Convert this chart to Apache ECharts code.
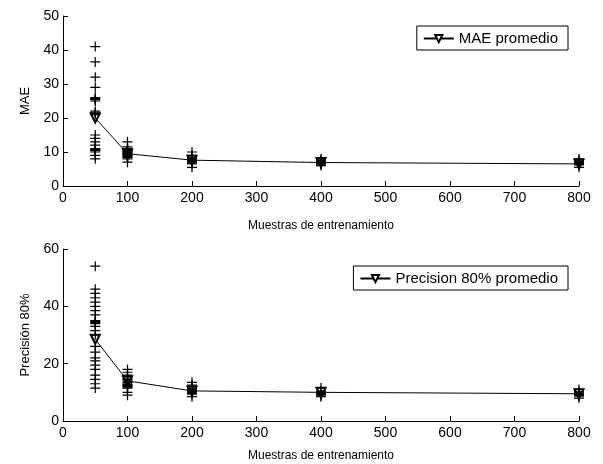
<!DOCTYPE html>
<html>
<head>
<meta charset="utf-8">
<script src="https://cdn.jsdelivr.net/npm/echarts@6/dist/echarts.min.js"></script>
<style>
html,body{margin:0;padding:0;background:#fff;}
#c{width:603px;height:464px;}
</style>
</head>
<body>
<div id="c"></div>
<script>
// X positions (training samples)
const samples = [50, 100, 200, 400, 800];

// Individual MAE results per sample size
const maeRuns50 = [41, 36.5, 32, 29, 26, 25.7, 25.4, 25, 22, 21.5, 21, 15, 14, 13, 12, 11, 10.8, 10.6, 10.4, 10, 9, 8];
const maeRuns100 = [13, 11.5, 11, 10.8, 10.6, 10.4, 10.2, 10, 9.8, 9.6, 9.4, 9.2, 9, 8.8, 8.6, 8.4, 8, 7];
const maeRuns200 = [10, 9, 8.3, 8.1, 7.9, 7.7, 7.5, 7.3, 7.1, 6.9, 6.5, 5.5];
const maeRuns400 = [8, 7.6, 7.4, 7.2, 7, 6.8, 6.6, 6.4, 6];
const maeRuns800 = [8, 7.4, 7.2, 7, 6.8, 6.6, 6.4, 6.2, 5.5];
const maeMean = [20, 9.5, 7.6, 6.9, 6.5];

// Individual precision-80% results per sample size
const precRuns50 = [54, 46, 44.5, 43, 41.5, 40, 38.5, 37, 35, 34.7, 34.4, 34, 33, 31.5, 30, 26, 24, 22, 21, 19.5, 18, 16, 14.5, 13, 11.5];
const precRuns100 = [18, 17, 16, 15, 14.5, 14, 13.5, 13, 12.7, 12.4, 12.1, 11.8, 11.5, 10, 9];
const precRuns200 = [13.5, 12.5, 11.5, 11.2, 10.9, 10.6, 10.3, 10, 9.7, 9.4, 8.5];
const precRuns400 = [11.5, 10.5, 10.2, 9.9, 9.6, 9.3, 9, 8.5];
const precRuns800 = [11, 10.2, 9.8, 9.5, 9.2, 9, 8.7, 8];
const precMean = [28.5, 14, 10.5, 10, 9.5];

const xTicks = [0, 100, 200, 300, 400, 500, 600, 700, 800];

function pts(x, arr){ return arr.map(v => [x, v]); }
const maeRuns = [].concat(pts(samples[0], maeRuns50), pts(samples[1], maeRuns100), pts(samples[2], maeRuns200), pts(samples[3], maeRuns400), pts(samples[4], maeRuns800));
const precRuns = [].concat(pts(samples[0], precRuns50), pts(samples[1], precRuns100), pts(samples[2], precRuns200), pts(samples[3], precRuns400), pts(samples[4], precRuns800));

const font = 'Liberation Sans, Arial, sans-serif';
const plus = 'path://M4.4,0H5.6V4.4H10V5.6H5.6V10H4.4V5.6H0V4.4H4.4Z';

function xAxis(gi){
  return {
    type:'value', gridIndex:gi, min:0, max:800, interval:100,
    name:'Muestras de entrenamiento', nameLocation:'middle', nameGap: gi===0 ? 34 : 29,
    nameTextStyle:{color:'#000', fontFamily:font, fontSize:12},
    axisLine:{lineStyle:{color:'#000', width:1}},
    axisTick:{inside:true, length:5, lineStyle:{color:'#000'}},
    axisLabel:{color:'#000', fontFamily:font, fontSize:14, margin:5},
    splitLine:{show:false}
  };
}
function yAxis(gi, max, interval, name){
  return {
    type:'value', gridIndex:gi, min:0, max:max, interval:interval,
    name:name, nameLocation:'middle', nameGap:31,
    nameTextStyle:{color:'#000', fontFamily:font, fontSize:13},
    axisLine:{show:true, lineStyle:{color:'#000', width:1}},
    axisTick:{show:true, inside:true, length:5, lineStyle:{color:'#000'}},
    axisLabel:{color:'#000', fontFamily:font, fontSize:14, margin:4},
    splitLine:{show:false}
  };
}
function legend(name, top){
  return {data:[name], right:35, top:top, orient:'vertical',
    backgroundColor:'#fff', borderColor:'#000', borderWidth:1, borderRadius:0,
    padding:[5,10,4,6], itemWidth:30, itemHeight:9, itemGap:4,
    textStyle:{color:'#000', fontFamily:font, fontSize:15}};
}

const chart = echarts.init(document.getElementById('c'), null, {renderer:'canvas'});
chart.setOption({
  backgroundColor:'#fff',
  animation:false,
  grid:[
    {left:63, right:24, top:16, height:170},
    {left:63, right:24, top:249, height:172}
  ],
  xAxis:[xAxis(0), xAxis(1)],
  yAxis:[yAxis(0, 50, 10, 'MAE'), yAxis(1, 60, 20, 'Precisión 80%')],
  legend:[legend('MAE promedio', 26), legend('Precision 80% promedio', 266)],
  series:[
    {type:'line', name:'MAE promedio', xAxisIndex:0, yAxisIndex:0,
     data:samples.map((x,i)=>[x, maeMean[i]]),
     symbol:'emptyTriangle', symbolRotate:180, symbolSize:9,
     lineStyle:{color:'#000', width:1}, itemStyle:{color:'#000', borderColor:'#000', borderWidth:1}, z:2},
    {type:'scatter', name:'MAE runs', xAxisIndex:0, yAxisIndex:0, data:maeRuns,
     symbol:plus, symbolSize:10, itemStyle:{color:'#000', opacity:1}, z:3},
    {type:'line', name:'Precision 80% promedio', xAxisIndex:1, yAxisIndex:1,
     data:samples.map((x,i)=>[x, precMean[i]]),
     symbol:'emptyTriangle', symbolRotate:180, symbolSize:9,
     lineStyle:{color:'#000', width:1}, itemStyle:{color:'#000', borderColor:'#000', borderWidth:1}, z:2},
    {type:'scatter', name:'Prec runs', xAxisIndex:1, yAxisIndex:1, data:precRuns,
     symbol:plus, symbolSize:10, itemStyle:{color:'#000', opacity:1}, z:3}
  ]
});
</script>
</body>
</html>
